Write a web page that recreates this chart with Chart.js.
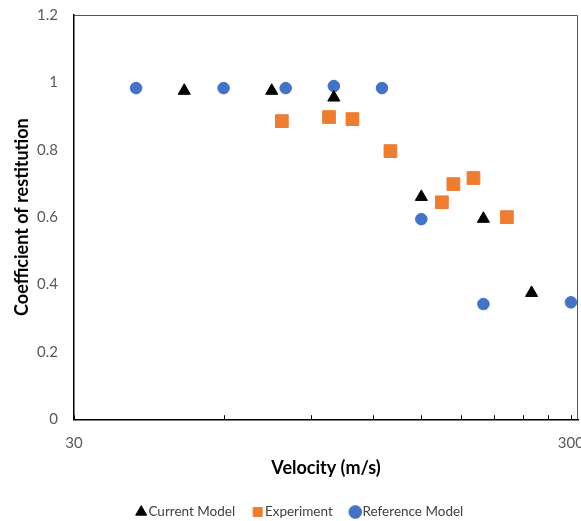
<!DOCTYPE html>
<html>
<head>
<meta charset="utf-8">
<script src="https://cdn.jsdelivr.net/npm/chart.js@4"></script>
<style>
  html, body { margin: 0; padding: 0; background: #fff; }
  #wrap { width: 581px; height: 521px; }
</style>
</head>
<body>
<div id="wrap"><canvas id="c" width="581" height="521"></canvas></div>
<script>
// values
const currentX = [50, 75, 100, 150, 200, 250];
const currentY = [0.975, 0.975, 0.955, 0.66, 0.595, 0.375];

const expX = [78.6, 97.8, 109, 130, 165, 174, 191, 223];
const expY = [0.885, 0.897, 0.891, 0.796, 0.644, 0.698, 0.716, 0.6];

const refX = [40, 60, 80, 100, 125, 150, 200, 300];
const refY = [0.983, 0.983, 0.983, 0.989, 0.983, 0.594, 0.342, 0.347];

const xTicks = [30, 60, 90, 120, 150, 180, 210, 240, 270, 300];
const xLabelled = [30, 300];
const yTicks = [0, 0.2, 0.4, 0.6, 0.8, 1, 1.2];
const xMin = 30, xMax = 310;

function pts(xs, ys) {
    return xs.map((x, i) => ({ x: x, y: ys[i] }));
}

Chart.defaults.font.family = 'Lato, "Open Sans", sans-serif';

// frame around plot + short inward minor ticks on the x axis
const frame = {
    id: 'frame',
    afterLayout(chart) {
        // legend sits a little right of centre in the original
        chart.legend.left += 13;
        chart.legend.right += 13;
    },
    afterDatasetsDraw(chart) {
        const { ctx, chartArea: a, scales } = chart;
        ctx.save();
        ctx.strokeStyle = '#555';
        ctx.lineWidth = 1;
        ctx.beginPath();
        ctx.moveTo(a.left, a.top + 0.5);
        ctx.lineTo(a.right - 0.5, a.top + 0.5);
        ctx.lineTo(a.right - 0.5, a.bottom);
        ctx.stroke();

        ctx.strokeStyle = '#000';
        ctx.beginPath();
        xTicks.forEach(v => {
            const px = Math.round(scales.x.getPixelForValue(v)) + 0.5;
            ctx.moveTo(px, a.bottom);
            ctx.lineTo(px, a.bottom - 4);
        });
        ctx.stroke();
        ctx.restore();
    }
};

new Chart(document.getElementById('c').getContext('2d'), {
    type: 'scatter',
    data: {
        datasets: [
            {
                label: 'Current Model',
                data: pts(currentX, currentY),
                pointStyle: 'triangle',
                pointRadius: 7,
                backgroundColor: '#000',
                borderColor: '#000',
                borderWidth: 1
            },
            {
                label: 'Experiment',
                data: pts(expX, expY),
                pointStyle: 'rect',
                pointRadius: 9,
                backgroundColor: '#ED7D31',
                borderColor: '#ED7D31',
                borderWidth: 1
            },
            {
                label: 'Reference Model',
                data: pts(refX, refY),
                pointStyle: 'circle',
                pointRadius: 5.8,
                backgroundColor: '#4472C4',
                borderColor: '#4472C4',
                borderWidth: 1
            }
        ]
    },
    options: {
        responsive: false,
        animation: false,
        clip: false,
        layout: {
            autoPadding: false,
            padding: { left: 0, right: 3, top: 15, bottom: -7.75 }
        },
        plugins: {
            tooltip: { enabled: false },
            legend: {
                position: 'bottom',
                labels: {
                    usePointStyle: true,
                    boxWidth: 1,
                    boxHeight: 9,
                    padding: 22,
                    color: '#404040',
                    font: { size: 13.5 }
                }
            }
        },
        scales: {
            x: {
                type: 'logarithmic',
                min: xMin,
                max: xMax,
                afterBuildTicks(scale) {
                    // unlabelled end tick keeps the "300" label from pushing the plot in
                    scale.ticks = xTicks.concat([xMax]).map(v => ({ value: v }));
                },
                afterFit(scale) {
                    scale.height = 64;
                },
                ticks: {
                    autoSkip: false,
                    maxRotation: 0,
                    padding: 0,
                    color: '#595959',
                    font: { size: 15 },
                    callback: v => xLabelled.includes(v) ? String(v) : ''
                },
                // invisible tick marks just give the labels their gap below the axis
                grid: {
                    display: true,
                    drawOnChartArea: false,
                    drawTicks: true,
                    tickLength: 15,
                    tickColor: 'rgba(0,0,0,0)'
                },
                border: { display: true, color: '#000', width: 1.5 },
                title: {
                    display: true,
                    text: 'Velocity (m/s)',
                    color: '#000',
                    font: { size: 18, weight: 'bold' },
                    padding: { top: 0, bottom: 4.5 }
                }
            },
            y: {
                min: 0,
                max: 1.2,
                afterBuildTicks(scale) {
                    scale.ticks = yTicks.map(v => ({ value: v }));
                },
                afterFit(scale) {
                    scale.width = 74;
                    scale.paddingTop = 0;
                    scale.paddingBottom = 0;
                },
                ticks: {
                    padding: 16,
                    color: '#595959',
                    font: { size: 15 },
                    callback: v => String(Number(v.toFixed(1)))
                },
                grid: { display: false, drawTicks: false },
                border: { display: true, color: '#000', width: 1.5 },
                title: {
                    display: true,
                    text: 'Coefficient of restitution',
                    color: '#000',
                    font: { size: 18, weight: 'bold' },
                    padding: { top: 11, bottom: 0 }
                }
            }
        }
    },
    plugins: [frame]
});
</script>
</body>
</html>
